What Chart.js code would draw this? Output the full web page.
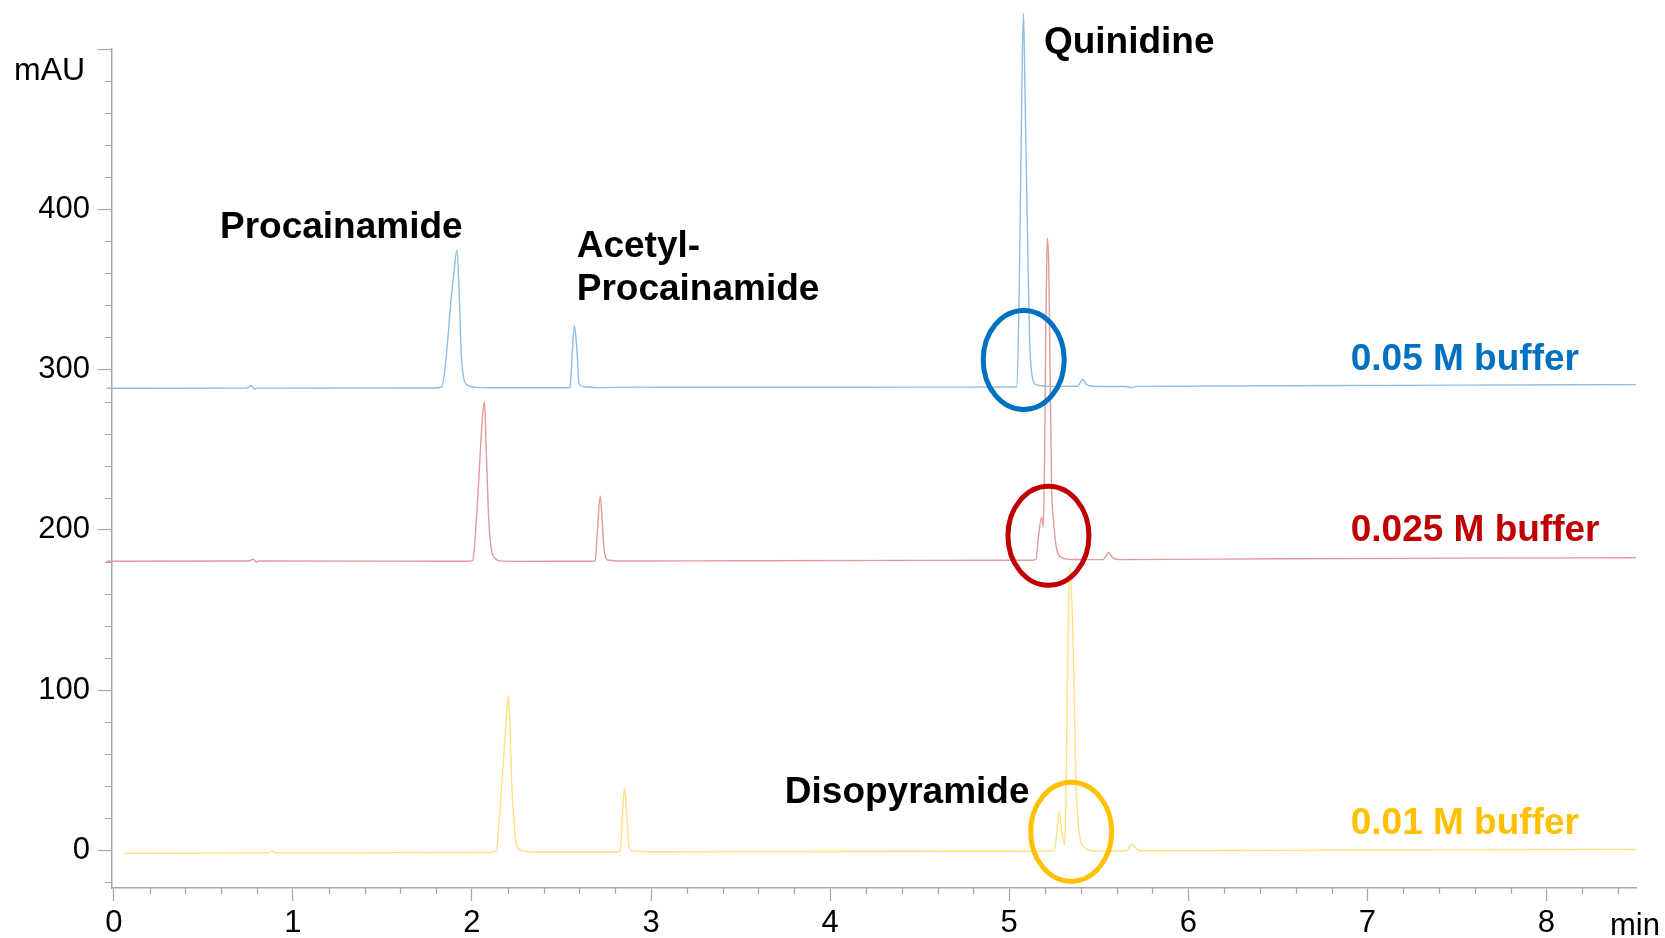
<!DOCTYPE html>
<html>
<head>
<meta charset="utf-8">
<script src="https://cdn.jsdelivr.net/npm/chart.js@4.4.1/dist/chart.umd.min.js"></script>
<style>
  html, body { margin: 0; padding: 0; background: #ffffff; }
  #wrap { width: 1665px; height: 938px; position: relative; }
</style>
</head>
<body>
<div id="wrap"><canvas id="chrom" width="1665" height="938"></canvas></div>
<script>
// Chromatogram traces: retention time (min) and detector signal (mAU)
const seriesNames = ['0.05 M buffer', '0.025 M buffer', '0.01 M buffer'];

const blueTime = [-0.04, 0.74, 0.77, 0.785, 0.80, 1.80, 1.832, 1.860, 1.878, 1.897, 1.916, 1.930, 1.940, 1.953, 1.972, 2.027, 2.10,
  2.54, 2.548, 2.561, 2.572, 2.586, 2.598, 2.623, 2.70, 2.90, 3.5, 4.5, 5.03, 5.042, 5.055, 5.065, 5.074, 5.080, 5.089, 5.102,
  5.113, 5.126, 5.154, 5.22, 5.38, 5.395, 5.411, 5.43, 5.46, 5.65, 5.68, 5.72, 6.5, 7.5, 8.5];
const blueSignal = [288.3, 288.4, 289.9, 287.9, 288.4, 288.5, 289.3, 312.2, 337.2, 357.9, 374.6, 343.4, 310.1, 295.5, 290.4, 288.9, 288.6,
  288.6, 289.3, 312.2, 327.2, 312.0, 291.0, 289.3, 288.7, 289.0, 288.9, 289.0, 289.1, 289.3, 343.4, 426.6, 499.4, 522.3, 468.2, 385.0,
  322.6, 297.6, 290.4, 289.5, 289.6, 291.5, 293.9, 290.8, 289.6, 289.4, 288.8, 289.5, 289.9, 290.3, 290.6];

const redTime = [-0.04, 0.75, 0.78, 0.795, 0.81, 1.98, 2.005, 2.027, 2.046, 2.059, 2.070, 2.079, 2.092, 2.106, 2.130, 2.157, 2.25,
  2.67, 2.688, 2.701, 2.716, 2.727, 2.738, 2.762, 2.85, 3.5, 4.5, 5.13, 5.150, 5.163, 5.182, 5.191, 5.198, 5.204, 5.209, 5.213,
  5.221, 5.228, 5.237, 5.247, 5.266, 5.294, 5.35, 5.52, 5.535, 5.554, 5.58, 5.62, 6.5, 7.5, 8.5];
const redSignal = [180.4, 180.5, 181.6, 179.8, 180.5, 180.4, 181.0, 210.3, 247.7, 270.6, 279.9, 251.9, 210.3, 189.5, 182.2, 180.6, 180.3,
  180.4, 180.8, 199.9, 221.1, 206.1, 187.4, 181.0, 180.5, 180.7, 180.9, 181.0, 181.6, 195.7, 207.8, 201.9, 250.0, 322.6, 364.2, 381.9,
  364.0, 301.8, 226.9, 206.1, 187.4, 182.7, 181.5, 181.4, 182.5, 185.8, 182.3, 181.4, 181.9, 182.3, 182.6];

const yellowTime = [0.06, 0.86, 0.885, 0.90, 2.10, 2.135, 2.154, 2.167, 2.180, 2.195, 2.204, 2.213, 2.222, 2.235, 2.250, 2.278, 2.35,
  2.81, 2.827, 2.840, 2.852, 2.865, 2.877, 2.898, 3.0, 4.0, 5.0, 5.251, 5.265, 5.279, 5.295, 5.309, 5.316, 5.322, 5.331, 5.340,
  5.359, 5.372, 5.387, 5.424, 5.489, 5.655, 5.685, 5.72, 5.76, 6.5, 7.5, 8.5];
const yellowSignal = [-1.9, -1.6, -0.2, -1.6, -1.3, -0.5, 21.0, 41.8, 62.6, 87.5, 96.5, 73.0, 41.8, 16.8, 3.3, 0.0, -1.0,
  -1.0, -0.3, 21.0, 38.7, 21.0, 2.3, -0.5, -0.9, -0.7, -0.6, -0.5, 10.0, 24.1, 10.0, 3.3, 30.0, 77.0, 150.0, 177.0,
  118.8, 46.0, 14.7, 1.5, -0.5, -0.3, 3.9, 0.2, -0.3, 0.0, 0.3, 0.5];

// Axis ticks
const xMajorTicks = [0, 1, 2, 3, 4, 5, 6, 7, 8];
const xTickLabels = ['0', '1', '2', '3', '4', '5', '6', '7', '8'];
const yMajorTicks = [0, 100, 200, 300, 400, 500];
const yTickLabels = ['0', '100', '200', '300', '400', ''];

// Compound names written beside the peaks
const compoundNames = ['Procainamide', 'Acetyl-', 'Procainamide', 'Quinidine', 'Disopyramide'];

const traceColors = ['#8fbde4', '#e39a9a', '#ffdf7f'];
const accentColors = ['#0070c0', '#c00000', '#ffc000'];
const axisGray = '#a6a6a6';
const FONT = '"Liberation Sans", Arial, Helvetica, sans-serif';

function toPoints(ts, vs) { return ts.map((t, i) => ({ x: t, y: vs[i] })); }

const traces = [toPoints(blueTime, blueSignal), toPoints(redTime, redSignal), toPoints(yellowTime, yellowSignal)];

// minor tick positions: every 0.2 min and every 20 mAU
const xMinorTicks = [];
for (let k = 1; k <= 42; k++) { if (k % 5 !== 0) xMinorTicks.push(k / 5); }
const yMinorTicks = [];
for (let v = -20; v < 500; v += 20) { if (v % 100 !== 0) yMinorTicks.push(v); }

const overlayPlugin = {
  id: 'overlay',
  afterDraw(chart) {
    const { ctx, scales: { x, y }, chartArea } = chart;
    ctx.save();
    // short minor ticks
    ctx.strokeStyle = axisGray;
    ctx.lineWidth = 1.2;
    ctx.beginPath();
    xMinorTicks.forEach(t => {
      const px = Math.round(x.getPixelForValue(t)) + 0.5;
      ctx.moveTo(px, chartArea.bottom);
      ctx.lineTo(px, chartArea.bottom + 6);
    });
    yMinorTicks.forEach(v => {
      const py = Math.round(y.getPixelForValue(v)) + 0.5;
      ctx.moveTo(chartArea.left, py);
      ctx.lineTo(chartArea.left - 7, py);
    });
    ctx.stroke();

    // circles around the quinidine / disopyramide region
    const rings = [
      { t: 5.081, v: 306.0 },
      { t: 5.219, v: 196.3 },
      { t: 5.346, v: 11.6 }
    ];
    ctx.lineWidth = 5;
    rings.forEach((r, i) => {
      ctx.strokeStyle = accentColors[i];
      ctx.beginPath();
      ctx.ellipse(x.getPixelForValue(r.t), y.getPixelForValue(r.v), 40.5, 49.5, 0, 0, Math.PI * 2);
      ctx.stroke();
    });

    // compound names
    const namePos = [
      { t: 0.593, v: 382.3 },
      { t: 2.585, v: 370.5 },
      { t: 2.585, v: 343.2 },
      { t: 5.194, v: 497.7 },
      { t: 3.747, v: 29.3 }
    ];
    ctx.fillStyle = '#000000';
    ctx.font = 'bold 37px ' + FONT;
    ctx.textAlign = 'left';
    ctx.textBaseline = 'alphabetic';
    compoundNames.forEach((name, i) => {
      ctx.fillText(name, x.getPixelForValue(namePos[i].t), y.getPixelForValue(namePos[i].v));
    });

    // buffer concentration labels
    const bufPos = [299.7, 193.2, 10.5];
    seriesNames.forEach((name, i) => {
      ctx.fillStyle = accentColors[i];
      ctx.fillText(name, x.getPixelForValue(6.907), y.getPixelForValue(bufPos[i]));
    });

    // axis units
    ctx.fillStyle = '#000000';
    ctx.font = '32px ' + FONT;
    ctx.textAlign = 'left';
    ctx.fillText('mAU', 14, 80);
    ctx.font = '31px ' + FONT;
    ctx.fillText('min', 1610, 935);
    ctx.restore();
  }
};

new Chart(document.getElementById('chrom'), {
  type: 'line',
  data: {
    datasets: traces.map((pts, i) => ({
      label: seriesNames[i],
      data: pts,
      borderColor: traceColors[i],
      borderWidth: 1.4,
      pointRadius: 0,
      cubicInterpolationMode: 'monotone',
      fill: false,
      clip: false
    }))
  },
  options: {
    responsive: false,
    animation: false,
    layout: { padding: { top: 49, right: 29, left: 0, bottom: 0 } },
    plugins: { legend: { display: false }, tooltip: { enabled: false } },
    scales: {
      x: {
        type: 'linear',
        min: -0.01,
        max: 8.5,
        afterBuildTicks: ax => { ax.ticks = xMajorTicks.map(v => ({ value: v })); },
        afterFit: ax => { ax.height = 50; },
        ticks: {
          callback: (v, i) => xTickLabels[i],
          font: { family: FONT, size: 31 },
          color: '#000000',
          padding: 4,
          maxRotation: 0,
          autoSkip: false
        },
        grid: { drawOnChartArea: false, drawTicks: true, tickLength: 13, tickColor: axisGray, tickWidth: 1.2 },
        border: { display: true, color: axisGray, width: 1.5 }
      },
      y: {
        type: 'linear',
        min: -23.5,
        max: 500,
        afterBuildTicks: ax => { ax.ticks = yMajorTicks.map(v => ({ value: v })); },
        afterFit: ax => { ax.width = 112; },
        ticks: {
          callback: (v, i) => yTickLabels[i],
          font: { family: FONT, size: 31 },
          color: '#000000',
          padding: 8,
          autoSkip: false
        },
        grid: { drawOnChartArea: false, drawTicks: true, tickLength: 14, tickColor: axisGray, tickWidth: 1.2 },
        border: { display: true, color: axisGray, width: 1.5 }
      }
    }
  },
  plugins: [overlayPlugin]
});
</script>
</body>
</html>
